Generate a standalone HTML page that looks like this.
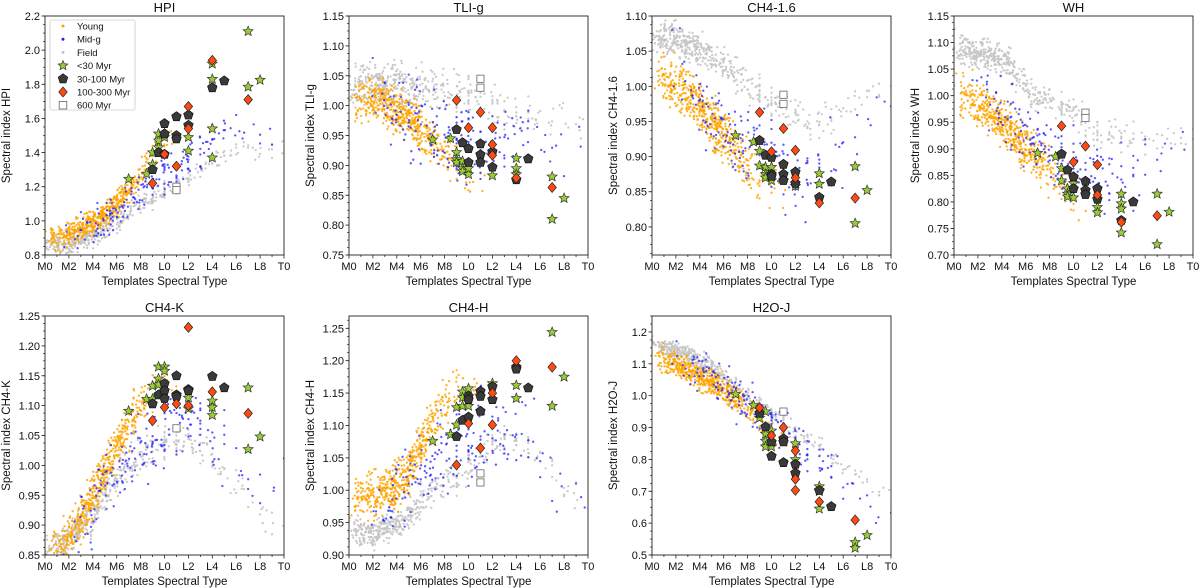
<!DOCTYPE html>
<html><head><meta charset="utf-8">
<style>
html,body{margin:0;padding:0;background:#fff;}
svg{display:block;font-family:"Liberation Sans","DejaVu Sans",sans-serif;}
</style></head>
<body>
<svg id="fig" width="1200" height="588" viewBox="0 0 1200 588" xmlns="http://www.w3.org/2000/svg"></svg>
<script>
// ---------- data ----------
const sptLabels = ["M0","M2","M4","M6","M8","L0","L2","L4","L6","L8","T0"];
const panelTitles = ["HPI","TLI-g","CH4-1.6","WH","CH4-K","CH4-H","H2O-J"];
const yRanges = [[0.8,2.2],[0.75,1.15],[0.76,1.10],[0.70,1.15],[0.85,1.25],[0.90,1.269],[0.5,1.25]];
const yTicks = [[0.8,1.0,1.2,1.4,1.6,1.8,2.0,2.2],[0.75,0.8,0.85,0.9,0.95,1.0,1.05,1.1,1.15],[0.8,0.85,0.9,0.95,1.0,1.05,1.1],[0.7,0.75,0.8,0.85,0.9,0.95,1.0,1.05,1.1,1.15],[0.85,0.9,0.95,1.0,1.05,1.1,1.15,1.2,1.25],[0.9,0.95,1.0,1.05,1.1,1.15,1.2,1.25],[0.5,0.6,0.7,0.8,0.9,1.0,1.1,1.2]];
const yDec = [1,2,2,2,2,2,1];
const panelBoxes = [[45,16],[349,16],[652,16],[954,16],[45,316],[349,316],[652,316]];

// cloud counts per spectral-type bin (0..20)
const youngCounts = [6,40,60,70,80,80,70,50,30,15,8,3,0,0,0,0,0,0,0,0,0];
const midCounts   = [0,0,3,8,14,15,16,16,16,16,16,13,13,10,8,6,4,3,2,2,1];
const fieldCounts = [22,50,60,60,50,40,30,25,20,20,20,15,15,12,10,8,6,5,5,4,2];

// cloud centers per spectral-type (0..20), per panel
const youngC = [
 [0.88,0.9,0.92,0.95,0.99,1.04,1.1,1.18,1.28,1.38,1.45,1.5],
 [1.0,1.01,1.01,1.0,0.99,0.98,0.96,0.94,0.92,0.9,0.88,0.87],
 [1.01,1.01,1.0,0.99,0.97,0.95,0.93,0.91,0.89,0.87,0.86,0.85],
 [1.0,1.0,0.99,0.97,0.95,0.92,0.9,0.88,0.86,0.84,0.82,0.81],
 [0.85,0.86,0.88,0.91,0.95,0.99,1.03,1.07,1.1,1.12,1.13,1.13],
 [0.98,0.99,0.99,1.0,1.01,1.03,1.07,1.1,1.13,1.15,1.17,1.18],
 [1.12,1.11,1.1,1.08,1.06,1.04,1.02,0.99,0.96,0.92,0.88,0.85]];
const midC = [
 [0.9,0.9,0.92,0.95,0.97,1.02,1.07,1.13,1.18,1.22,1.26,1.3,1.36,1.42,1.48,1.5,1.52,1.5,1.5,1.5,1.6],
 [1.02,1.02,1.02,1.01,0.99,0.98,0.97,0.96,0.95,0.94,0.93,0.93,0.93,0.94,0.95,0.95,0.94,0.93,0.93,0.94,0.95],
 [1.02,1.02,1.02,1.0,0.98,0.96,0.94,0.93,0.92,0.91,0.9,0.89,0.88,0.88,0.88,0.89,0.9,0.92,0.95,0.97,0.97],
 [1.02,1.02,1.02,1.0,0.98,0.95,0.93,0.91,0.89,0.88,0.87,0.86,0.86,0.85,0.85,0.85,0.86,0.88,0.9,0.91,0.91],
 [0.9,0.9,0.9,0.9,0.93,0.96,0.99,1.01,1.03,1.05,1.06,1.07,1.07,1.06,1.05,1.03,1.01,0.99,0.97,0.97,0.97],
 [0.97,0.97,0.97,0.97,0.99,1.0,1.02,1.04,1.06,1.07,1.08,1.09,1.1,1.1,1.1,1.09,1.05,1.02,1.01,1.0,1.0],
 [1.12,1.12,1.12,1.1,1.08,1.06,1.03,1.0,0.97,0.94,0.92,0.89,0.86,0.82,0.79,0.76,0.73,0.7,0.67,0.64,0.62]];
const fieldC = [
 [0.86,0.86,0.87,0.89,0.91,0.95,1.0,1.06,1.1,1.13,1.17,1.2,1.26,1.3,1.35,1.38,1.42,1.42,1.42,1.42,1.42],
 [1.03,1.035,1.035,1.035,1.035,1.03,1.03,1.03,1.03,1.02,1.02,1.02,1.0,0.99,0.99,0.99,0.98,0.98,0.98,0.97,0.97],
 [1.07,1.07,1.065,1.06,1.05,1.04,1.03,1.02,1.0,0.99,0.98,0.97,0.96,0.95,0.95,0.95,0.96,0.98,1.0,1.0,1.0],
 [1.09,1.085,1.08,1.075,1.07,1.05,1.02,1.0,0.99,0.98,0.97,0.95,0.93,0.92,0.92,0.92,0.92,0.92,0.92,0.92,0.92],
 [0.85,0.86,0.88,0.9,0.92,0.95,0.98,1.0,1.02,1.03,1.04,1.04,1.04,1.03,1.01,0.99,0.97,0.95,0.92,0.9,0.88],
 [0.94,0.935,0.935,0.94,0.95,0.96,0.98,1.0,1.01,1.02,1.04,1.06,1.07,1.08,1.08,1.07,1.05,1.03,1.0,0.99,0.98],
 [1.16,1.15,1.14,1.13,1.11,1.09,1.06,1.03,1.0,0.97,0.94,0.91,0.88,0.86,0.84,0.81,0.78,0.76,0.74,0.71,0.68]];
const cloudSpread = [[0.06,0.11,0.05],[0.03,0.055,0.03],[0.03,0.05,0.02],[0.035,0.055,0.025],[0.03,0.05,0.025],[0.03,0.05,0.02],[0.035,0.055,0.025]];

// benchmark markers [spt, value]
const stars = [
 [[7,1.245],[8.5,1.275],[9,1.33],[9,1.40],[9.5,1.43],[9.5,1.47],[9.5,1.51],[10,1.49],[10,1.51],[12,1.41],[12,1.49],[14,1.37],[14,1.54],[14,1.83],[14,1.92],[17,2.11],[17,1.785],[18,1.825]],
 [[7,0.943],[8.5,0.945],[9,0.922],[9,0.91],[9,0.905],[9.5,0.907],[9.5,0.895],[9.5,0.89],[10,0.885],[10,0.895],[12,0.883],[14,0.912],[14,0.895],[14,0.885],[17,0.881],[17,0.81],[18,0.845]],
 [[7,0.930],[8.5,0.921],[9,0.908],[9,0.887],[9.5,0.885],[9.5,0.875],[9.5,0.87],[10,0.885],[10,0.866],[12,0.858],[14,0.876],[14,0.861],[17,0.886],[17,0.805],[18,0.852]],
 [[7,0.892],[8.5,0.885],[9,0.863],[9,0.84],[9.5,0.825],[9.5,0.815],[9.5,0.81],[10,0.808],[10,0.835],[12,0.79],[12,0.78],[14,0.815],[14,0.797],[14,0.787],[14,0.742],[17,0.815],[17,0.72],[18,0.781]],
 [[7,1.091],[8.5,1.111],[9,1.133],[9,1.111],[9.5,1.165],[9.5,1.145],[9.5,1.135],[10,1.165],[10,1.158],[12,1.125],[12,1.113],[12,1.095],[14,1.108],[14,1.097],[14,1.084],[17,1.13],[17,1.027],[18,1.048]],
 [[7,1.076],[8.5,1.086],[9,1.128],[9,1.101],[9.5,1.152],[9.5,1.143],[9.5,1.13],[10,1.157],[10,1.13],[12,1.165],[14,1.162],[14,1.142],[17,1.244],[17,1.13],[18,1.175]],
 [[7,1.005],[8.5,0.97],[9,0.93],[9.5,0.95],[9.5,0.88],[9.5,0.858],[9.5,0.84],[10,0.89],[10,0.84],[12,0.85],[12,0.8],[14,0.715],[14,0.7],[14,0.645],[17,0.54],[17,0.522],[18,0.562]]];
const pentas = [
 [[9,1.30],[9.5,1.40],[10,1.57],[10,1.51],[10,1.39],[11,1.61],[11,1.50],[11,1.48],[12,1.62],[12,1.56],[14,1.78],[15,1.82]],
 [[9,0.96],[9.5,0.938],[10,0.928],[10,0.905],[11,0.936],[11,0.918],[11,0.905],[12,0.923],[12,0.897],[14,0.876],[15,0.911]],
 [[9,0.923],[9.5,0.902],[10,0.899],[10,0.875],[10,0.872],[11,0.889],[11,0.875],[11,0.866],[12,0.878],[12,0.862],[14,0.842],[15,0.864]],
 [[9,0.89],[9.5,0.86],[10,0.847],[10,0.825],[11,0.839],[11,0.822],[11,0.814],[12,0.825],[12,0.805],[14,0.765],[15,0.80]],
 [[9,1.103],[9.5,1.118],[10,1.137],[10,1.125],[10,1.112],[11,1.15],[11,1.118],[11,1.115],[12,1.127],[12,1.125],[14,1.149],[15,1.13]],
 [[9,1.083],[9.5,1.108],[10,1.145],[10,1.14],[10,1.113],[11,1.153],[11,1.145],[11,1.122],[12,1.16],[12,1.14],[14,1.19],[14,1.187],[15,1.158]],
 [[9,0.945],[9.5,0.902],[10,0.855],[10,0.81],[11,0.865],[11,0.855],[11,0.79],[12,0.785],[12,0.757],[14,0.703],[15,0.652]]];
const diamonds = [
 [[9,1.22],[10,1.39],[11,1.32],[12,1.67],[12,1.54],[14,1.94],[17,1.71]],
 [[9,1.009],[10,0.963],[11,0.989],[12,0.963],[12,0.935],[12,0.917],[14,0.879],[17,0.863]],
 [[9,0.963],[10,0.907],[11,0.94],[12,0.909],[12,0.87],[14,0.834],[17,0.841]],
 [[9,0.943],[10,0.875],[11,0.905],[12,0.87],[12,0.813],[14,0.762],[17,0.774]],
 [[9,1.075],[10,1.097],[11,1.103],[12,1.231],[12,1.1],[14,1.123],[17,1.087]],
 [[9,1.039],[10,1.103],[11,1.065],[12,1.15],[12,1.101],[14,1.2],[17,1.19]],
 [[9,0.962],[10,0.875],[11,0.9],[12,0.827],[12,0.738],[12,0.703],[14,0.667],[17,0.61]]];
const squares = [
 [[11,1.20],[11,1.18]],[[11,1.045],[11,1.03]],[[11,0.988],[11,0.975]],[[11,0.968],[11,0.958]],
 [[11,1.062]],[[11,1.026],[11,1.012]],[[11,0.95]]];
const legendLabels = ["Young","Mid-g","Field","<30 Myr","30-100 Myr","100-300 Myr","600 Myr"];

// ---------- drawing ----------
const NS = "http://www.w3.org/2000/svg";
const fig = document.getElementById("fig");
const W = 239, H = 239;
function mk(tag, attrs, parent){
  const e = document.createElementNS(NS, tag);
  for (const k in attrs) e.setAttribute(k, attrs[k]);
  (parent||fig).appendChild(e);
  return e;
}
let seed = 12345;
function rnd(){ seed = (seed*1103515245 + 12345) % 2147483648; return seed/2147483648; }
function gauss(){ return (rnd()+rnd()+rnd()-1.5)*1.15; }

function starPath(cx,cy,R){
  let d=""; const r=R*0.45;
  for(let i=0;i<10;i++){const a=-Math.PI/2+i*Math.PI/5;const rr=i%2?r:R;d+=(i?"L":"M")+(cx+rr*Math.cos(a)).toFixed(2)+","+(cy+rr*Math.sin(a)).toFixed(2);}
  return d+"Z";
}
function pentPath(cx,cy,R){
  let d="";
  for(let i=0;i<5;i++){const a=-Math.PI/2+i*2*Math.PI/5;d+=(i?"L":"M")+(cx+R*Math.cos(a)).toFixed(2)+","+(cy+R*Math.sin(a)).toFixed(2);}
  return d+"Z";
}
function drawStar(g,x,y,R){ return mk("path",{d:starPath(x,y,R),fill:"#9acd32",stroke:"#333","stroke-width":0.7},g); }
function drawPent(g,x,y,R){ return mk("path",{d:pentPath(x,y,R),fill:"#3a3a3a",stroke:"#111","stroke-width":0.7},g); }
function drawDiam(g,x,y,R){ return mk("path",{d:`M${x},${y-R}L${x+R*0.85},${y}L${x},${y+R}L${x-R*0.85},${y}Z`,fill:"#ff4b12",stroke:"#222","stroke-width":0.7},g); }
function drawSq(g,x,y,R){ return mk("rect",{x:x-R,y:y-R,width:2*R,height:2*R,fill:"#fff",stroke:"#666","stroke-width":0.8},g); }

panelTitles.forEach((title, p) => {
  const [L, T] = panelBoxes[p];
  const [y0, y1] = yRanges[p];
  const sx = v => L + v/20*W;
  const sy = v => T + H - (v - y0)/(y1 - y0)*H;
  const g = mk("g", {});
  
  
  const defsId = "clip"+p;
  const cp = mk("clipPath",{id:defsId},g); mk("rect",{x:L,y:T,width:W,height:H},cp);
  const pts = mk("g",{"clip-path":`url(#${defsId})`},g);
  
  

  function cloud(counts, centers, spread, color, op, name){
    const cg = mk("g",{fill:color,"fill-opacity":op},pts);
    
    
    counts.forEach((n, s) => {
      if (s >= centers.length) return;
      for (let i=0;i<n;i++){
        const t = s + (rnd()-0.5);
        const tt = Math.max(0, Math.min(centers.length-1, t));
        const i0 = Math.floor(tt), i1 = Math.min(centers.length-1, i0+1);
        const c = centers[i0] + (centers[i1]-centers[i0])*(tt-i0);
        const snap = (s>=9 && rnd()<0.35) ? Math.round(t) : t;
        const v = c + gauss()*spread;
        mk("circle",{cx:sx(snap).toFixed(1),cy:sy(v).toFixed(1),r:1.15},cg);
      }
    });
  }
  cloud(fieldCounts, fieldC[p], cloudSpread[p][2], "#c4c4c4", 0.9, "field-cloud");
  cloud(youngCounts, youngC[p], cloudSpread[p][0], "#ffa500", 0.85, "young-cloud");
  cloud(midCounts, midC[p], cloudSpread[p][1], "#1f1fff", 0.75, "mid-g-cloud");

  stars[p].forEach(([s,v]) => { const e=drawStar(pts,sx(s),sy(v),5.2);   });
  pentas[p].forEach(([s,v]) => { const e=drawPent(pts,sx(s),sy(v),5);   });
  diamonds[p].forEach(([s,v]) => { const e=drawDiam(pts,sx(s),sy(v),5);   });
  squares[p].forEach(([s,v]) => { const e=drawSq(pts,sx(s),sy(v),3.6);   });

  const frame = mk("rect",{x:L,y:T,width:W,height:H,fill:"none",stroke:"#222","stroke-width":0.9},g);
  
  

  // x ticks
  for (let s=0;s<=20;s++){
    const x = sx(s); const major = s%2===0;
    mk("line",{x1:x,x2:x,y1:T+H,y2:T+H+(major?3.5:2),stroke:"#222","stroke-width":0.8},g);
    if (major){
      const t = mk("text",{x:x,y:T+H+15,"text-anchor":"middle","font-size":11,fill:"#111"},g);
      t.textContent = sptLabels[s/2];
      
      
    }
  }
  // y ticks
  const tk = yTicks[p]; const step = tk[1]-tk[0];
  for (let v = tk[0]-step; v <= y1+1e-9; v += step/4){
    if (v < y0-1e-9) continue;
    const y = sy(v);
    mk("line",{x1:L,x2:L-2,y1:y,y2:y,stroke:"#222","stroke-width":0.7},g);
  }
  tk.forEach(v => {
    const y = sy(v);
    mk("line",{x1:L,x2:L-3.5,y1:y,y2:y,stroke:"#222","stroke-width":0.8},g);
    const t = mk("text",{x:L-5,y:y+4,"text-anchor":"end","font-size":11,fill:"#111"},g);
    t.textContent = v.toFixed(yDec[p]);
    
    
  });
  const tt = mk("text",{x:L+W/2,y:T-4,"text-anchor":"middle","font-size":13,fill:"#111"},g);
  tt.textContent = title;
  
  
  const xl = mk("text",{x:L+W/2,y:T+H+30,"text-anchor":"middle","font-size":11.5,fill:"#111"},g);
  xl.textContent = "Templates Spectral Type";
  
  
  const yx = L-35, yy = T+H/2;
  const yl = mk("text",{x:yx,y:yy,"text-anchor":"middle","font-size":11.5,fill:"#111",transform:`rotate(-90 ${yx} ${yy})`},g);
  yl.textContent = "Spectral index " + title;
  
  

  if (p === 0){
    const lg = mk("g",{},g);
    
    
    mk("rect",{x:50,y:20,width:85,height:90,rx:2,fill:"#fff","fill-opacity":0.85,stroke:"#ccc","stroke-width":0.8},lg);
    legendLabels.forEach((lab,i) => {
      const y = 26 + i*13.2, mx = 63;
      if (i===0) mk("circle",{cx:mx,cy:y,r:1.5,fill:"#ffa500"},lg);
      if (i===1) mk("circle",{cx:mx,cy:y,r:1.5,fill:"#1f1fff"},lg);
      if (i===2) mk("circle",{cx:mx,cy:y,r:1.5,fill:"#c4c4c4"},lg);
      if (i===3) drawStar(lg,mx,y,5);
      if (i===4) drawPent(lg,mx,y,5);
      if (i===5) drawDiam(lg,mx,y,5);
      if (i===6) drawSq(lg,mx,y,3.8);
      const t = mk("text",{x:77,y:y+3.5,"font-size":9.5,fill:"#111"},lg);
      t.textContent = lab;
      
      
    });
  }
});
</script>
</body></html>
